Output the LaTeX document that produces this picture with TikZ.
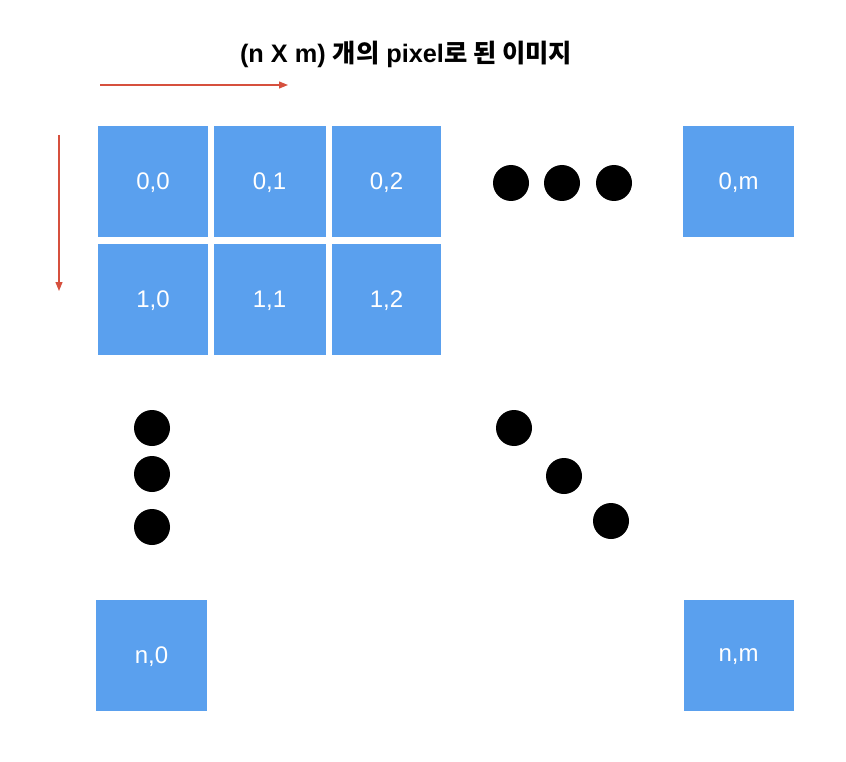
\documentclass[tikz,border=0pt]{standalone}
\usepackage{fontspec}
\usetikzlibrary{arrows.meta}
\setmainfont{Liberation Sans}
\newfontfamily\krfont{Noto Sans CJK KR}
\definecolor{pix}{RGB}{90,160,238}
\definecolor{arr}{RGB}{214,80,62}
\newcommand{\kr}[1]{{\krfont\bfseries #1}}
\begin{document}
\begin{tikzpicture}[x=1pt,y=-1pt,
  pixbox/.style={fill=pix,draw=none,minimum width=110pt,minimum height=111pt,inner sep=0pt,text=white,font=\fontsize{24}{28}\selectfont,text depth=0pt},
  dot/.style={circle,fill=black,draw=none,minimum size=36pt,inner sep=0pt},
  redarrow/.style={draw=arr,line width=1.2pt,-{Triangle[length=9pt,width=7pt]}}]
\useasboundingbox (0,0) rectangle (846,762);
\node[font=\bfseries\fontsize{25.3}{29}\selectfont,inner sep=0pt] (title) at (406,54) {(n X m) \kr{개의} pixel\kr{로 된 이미지}};
\coordinate (hs) at (100,85);
\coordinate (he) at (288,85);
\coordinate (vs) at (59,135);
\coordinate (ve) at (59,291);
\draw[redarrow] (hs) -- (he);
\draw[redarrow] (vs) -- (ve);
\node[pixbox] (p00) at (153,181.5) {0,0};
\node[pixbox,minimum width=112pt] (p01) at (269.5,181.5) {0,1};
\node[pixbox,minimum width=109pt] (p02) at (386.5,181.5) {0,2};
\node[pixbox] (p10) at (153,299.5) {1,0};
\node[pixbox,minimum width=112pt] (p11) at (269.5,299.5) {1,1};
\node[pixbox,minimum width=109pt] (p12) at (386.5,299.5) {1,2};
\node[pixbox,minimum width=111pt] (p0m) at (738.5,181.5) {0,m};
\node[pixbox,minimum width=111pt] (pn0) at (151.5,655.5) {n,0};
\node[pixbox,minimum width=110pt] (pnm) at (738.5,655.5) {n,m};
\node[dot] (h1) at (511,183) {};
\node[dot] (h2) at (562,183) {};
\node[dot] (h3) at (614,183) {};
\node[dot] (v1) at (152,428) {};
\node[dot] (v2) at (152,474) {};
\node[dot] (v3) at (152,527) {};
\node[dot] (d1) at (514,428) {};
\node[dot] (d2) at (564,476) {};
\node[dot] (d3) at (611,521) {};
\end{tikzpicture}
\end{document}
